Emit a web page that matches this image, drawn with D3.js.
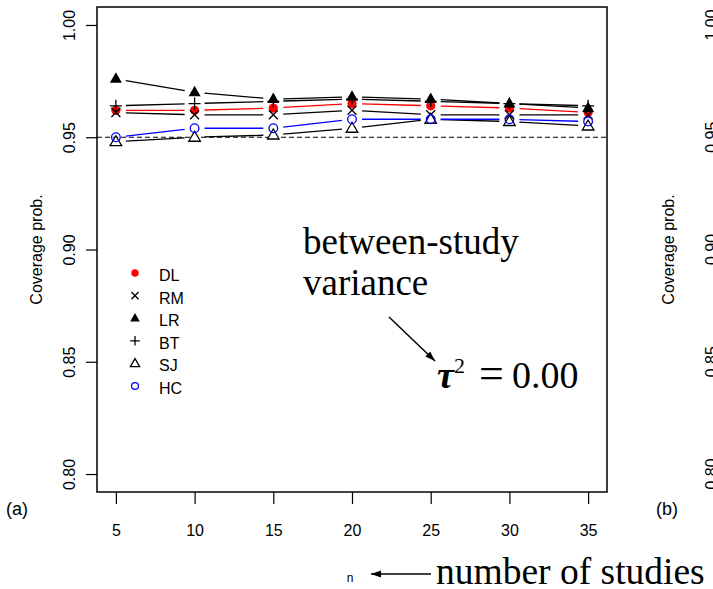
<!DOCTYPE html>
<html>
<head>
<meta charset="utf-8">
<script src="https://cdn.jsdelivr.net/npm/d3@7"></script>
<style>
  body { margin: 0; background: #fff; }
  svg { display: block; }
</style>
</head>
<body>
<div id="chart"></div>
<script>
// values
const nStudies = [5, 10, 15, 20, 25, 30, 35];
const covDL = [0.962, 0.962, 0.963, 0.965, 0.964, 0.963, 0.961];
const covRM = [0.961, 0.960, 0.960, 0.962, 0.960, 0.960, 0.960];
const covLR = [0.976, 0.970, 0.967, 0.968, 0.967, 0.965, 0.963];
const covBT = [0.964, 0.965, 0.966, 0.967, 0.966, 0.965, 0.964];
const covSJ = [0.948, 0.950, 0.951, 0.954, 0.958, 0.957, 0.955];
const covHC = [0.950, 0.954, 0.954, 0.958, 0.958, 0.958, 0.957];
const methods = ["DL", "RM", "LR", "BT", "SJ", "HC"];
const yTicks = [0.80, 0.85, 0.90, 0.95, 1.00];
const nominal = 0.95;

const width = 713, height = 589;
const box = {left: 97, right: 607, top: 7, bottom: 492};

const x = d3.scaleLinear().domain([3.8, 36.2]).range([box.left, box.right]);
const y = d3.scaleLinear().domain([0.792, 1.008]).range([box.bottom, box.top]);

const svg = d3.select("#chart").append("svg")
  .attr("width", width)
  .attr("height", height)
  .style("font-family", "Liberation Sans, Arial, sans-serif");

// marker shapes, like R pch 16, 4, 17, 3, 2, 1
const shapes = {
  DL: {color: "red", draw: (g, s) => g.append("circle").attr("r", 4.6 * s).attr("fill", "red")},
  RM: {color: "black", draw: (g, s) => g.append("path")
        .attr("d", `M${-4.5*s},${-4.5*s}L${4.5*s},${4.5*s}M${-4.5*s},${4.5*s}L${4.5*s},${-4.5*s}`)
        .attr("stroke", "black").attr("stroke-width", 1.3).attr("fill", "none")},
  LR: {color: "black", draw: (g, s) => g.append("path")
        .attr("d", `M0,${-6.5*s}L${6*s},${4*s}L${-6*s},${4*s}Z`).attr("fill", "black")},
  BT: {color: "black", draw: (g, s) => g.append("path")
        .attr("d", `M${-6*s},0L${6*s},0M0,${-6*s}L0,${6*s}`)
        .attr("stroke", "black").attr("stroke-width", 1.3).attr("fill", "none")},
  SJ: {color: "black", draw: (g, s) => g.append("path")
        .attr("d", `M0,${-6*s}L${5.8*s},${4*s}L${-5.8*s},${4*s}Z`)
        .attr("stroke", "black").attr("stroke-width", 1.3).attr("fill", "white")},
  HC: {color: "blue", draw: (g, s) => g.append("circle").attr("r", 4.3 * s)
        .attr("stroke", "blue").attr("stroke-width", 1.3).attr("fill", "none")}
};

const seriesData = {DL: covDL, RM: covRM, LR: covLR, BT: covBT, SJ: covSJ, HC: covHC};

// reference line at the nominal level
svg.append("line")
  .attr("x1", box.left).attr("x2", box.right)
  .attr("y1", y(nominal)).attr("y2", y(nominal))
  .attr("stroke", "black").attr("stroke-width", 1.2)
  .attr("stroke-dasharray", "5,3");

// lines with gaps round the points (type = "b")
const gap = 10;
methods.forEach(function(m) {
  const vals = seriesData[m];
  for (let i = 0; i < vals.length - 1; i++) {
    const x1 = x(nStudies[i]), y1 = y(vals[i]);
    const x2 = x(nStudies[i + 1]), y2 = y(vals[i + 1]);
    const len = Math.hypot(x2 - x1, y2 - y1);
    const ux = (x2 - x1) / len, uy = (y2 - y1) / len;
    svg.append("line")
      .attr("x1", x1 + ux * gap).attr("y1", y1 + uy * gap)
      .attr("x2", x2 - ux * gap).attr("y2", y2 - uy * gap)
      .attr("stroke", shapes[m].color).attr("stroke-width", 1.3);
  }
});

// points
methods.forEach(function(m) {
  seriesData[m].forEach(function(v, i) {
    const g = svg.append("g").attr("transform", `translate(${x(nStudies[i])},${y(v)})`);
    shapes[m].draw(g, 1);
  });
});

// frame
svg.append("rect")
  .attr("x", box.left).attr("y", box.top)
  .attr("width", box.right - box.left).attr("height", box.bottom - box.top)
  .attr("fill", "none").attr("stroke", "black").attr("stroke-width", 1.5);

// y axis
const yAxis = svg.append("g").attr("transform", `translate(${box.left},0)`)
  .call(d3.axisLeft(y).tickValues(yTicks).tickSize(11).tickFormat(d3.format(".2f")));
yAxis.select(".domain").remove();
yAxis.selectAll(".tick line").attr("stroke-width", 1.2);
yAxis.selectAll(".tick text")
  .attr("font-size", 16).attr("font-family", "Liberation Sans, Arial, sans-serif")
  .attr("fill", "black")
  .attr("transform", "rotate(-90)")
  .attr("x", 0).attr("y", -22).attr("dy", 0)
  .attr("text-anchor", "middle");

// x axis
const xAxis = svg.append("g").attr("transform", `translate(0,${box.bottom})`)
  .call(d3.axisBottom(x).tickValues(nStudies).tickSize(12).tickFormat(d3.format("d")));
xAxis.select(".domain").remove();
xAxis.selectAll(".tick line").attr("stroke-width", 1.2);
xAxis.selectAll(".tick text")
  .attr("font-size", 16).attr("font-family", "Liberation Sans, Arial, sans-serif")
  .attr("fill", "black").attr("y", 44).attr("dy", 0);

// axis titles
svg.append("text")
  .attr("transform", `translate(42,${(box.top + box.bottom) / 2}) rotate(-90)`)
  .attr("text-anchor", "middle").attr("font-size", 16)
  .text("Coverage prob.");
svg.append("text").attr("x", 350).attr("y", 582)
  .attr("text-anchor", "middle").attr("font-size", 12).text("n");
svg.append("text").attr("x", 6).attr("y", 515).attr("font-size", 18).text("(a)");

// legend
methods.forEach(function(m, i) {
  const ly = 275 + i * 22.6;
  const g = svg.append("g").attr("transform", `translate(135,${ly - 2})`);
  shapes[m].draw(g, 0.8);
  svg.append("text").attr("x", 159).attr("y", ly + 6)
    .attr("font-size", 16).text(m);
});

// annotations
const serif = "Liberation Serif, Times New Roman, serif";
svg.append("defs").append("marker")
  .attr("id", "head").attr("viewBox", "0 0 10 10")
  .attr("refX", 10).attr("refY", 5)
  .attr("markerWidth", 10).attr("markerHeight", 10)
  .attr("markerUnits", "userSpaceOnUse")
  .attr("orient", "auto")
  .append("path").attr("d", "M0,1.5L10,5L0,8.5Z").attr("fill", "black");

svg.append("text").attr("x", 303).attr("y", 254)
  .attr("font-family", serif).attr("font-size", 37).text("between-study");
svg.append("text").attr("x", 303).attr("y", 295)
  .attr("font-family", serif).attr("font-size", 37).text("variance");
svg.append("line")
  .attr("x1", 389).attr("y1", 317).attr("x2", 435).attr("y2", 361)
  .attr("stroke", "black").attr("stroke-width", 1.5)
  .attr("marker-end", "url(#head)");

const tau = svg.append("text").attr("x", 437).attr("y", 388)
  .attr("font-family", serif).attr("font-size", 38);
tau.append("tspan").attr("font-style", "italic").attr("font-weight", "bold").text("τ");
tau.append("tspan").attr("font-size", 22).attr("dy", -15).text("2");
tau.append("tspan").attr("x", 479).attr("dy", 15).attr("font-size", 44).text("=");
tau.append("tspan").attr("x", 512).text("0.00");

svg.append("line")
  .attr("x1", 431).attr("y1", 574).attr("x2", 371).attr("y2", 574)
  .attr("stroke", "black").attr("stroke-width", 1.5)
  .attr("marker-end", "url(#head)");
svg.append("text").attr("x", 436).attr("y", 584)
  .attr("font-family", serif).attr("font-size", 37.5).text("number of studies");

// start of panel (b), cut by the window edge
svg.append("text")
  .attr("transform", `translate(674,${(box.top + box.bottom) / 2}) rotate(-90)`)
  .attr("text-anchor", "middle").attr("font-size", 16)
  .text("Coverage prob.");
svg.append("text").attr("x", 656).attr("y", 515).attr("font-size", 18).text("(b)");
yTicks.forEach(function(t) {
  svg.append("text")
    .attr("transform", `translate(717,${y(t)}) rotate(-90)`)
    .attr("text-anchor", "middle").attr("font-size", 16)
    .text(d3.format(".2f")(t));
});
</script>
</body>
</html>
